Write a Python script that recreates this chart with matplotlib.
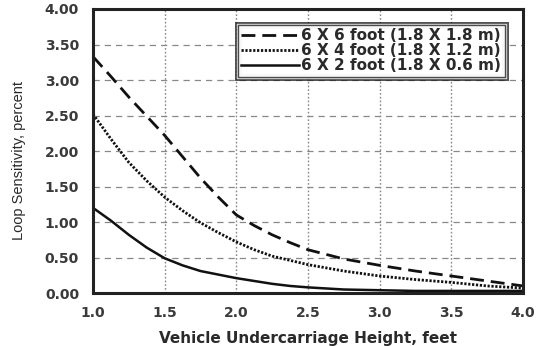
import numpy as np
import matplotlib.pyplot as plt
import matplotlib.patheffects as pe

# heights (feet) and loop sensitivity (%)
height = [1.0, 1.125, 1.25, 1.375, 1.5, 1.625, 1.75, 1.875, 2.0, 2.125, 2.25,
          2.375, 2.5, 2.75, 3.0, 3.25, 3.5, 3.75, 4.0]
sens_6x6 = [3.33, 3.05, 2.76, 2.49, 2.22, 1.92, 1.62, 1.35, 1.10, 0.95, 0.82,
            0.71, 0.61, 0.48, 0.39, 0.31, 0.24, 0.17, 0.10]
sens_6x4 = [2.52, 2.17, 1.84, 1.58, 1.35, 1.16, 0.99, 0.85, 0.72, 0.61, 0.52,
            0.46, 0.40, 0.31, 0.24, 0.19, 0.15, 0.10, 0.07]
sens_6x2 = [1.20, 1.02, 0.82, 0.64, 0.49, 0.39, 0.31, 0.26, 0.21, 0.17, 0.13,
            0.10, 0.08, 0.05, 0.04, 0.03, 0.03, 0.03, 0.03]

labels = ['6 X 6 foot (1.8 X 1.8 m)',
          '6 X 4 foot (1.8 X 1.2 m)',
          '6 X 2 foot (1.8 X 0.6 m)']

plt.rcParams['font.family'] = ['DejaVu Sans']
ink = '#2a2a2a'

fig = plt.figure(figsize=(5.39, 3.46), dpi=100)
ax = fig.add_axes([0.1725, 0.153, 0.798, 0.821])

ax.plot(height, sens_6x6, color='#111111', lw=2.0, ls=(0, (5, 2.5)), label=labels[0])
ax.plot(height, sens_6x4, color='#111111', lw=2.0, ls=(0, (0.8, 0.6)), label=labels[1])
ax.plot(height, sens_6x2, color='#111111', lw=1.8, ls='-', label=labels[2])

xt = np.arange(1.0, 4.01, 0.5)
yt = np.arange(0, 4.01, 0.5)
ax.set_xlim(1.0, 4.0)
ax.set_ylim(0, 4.0)
ax.set_xticks(xt)
ax.set_yticks(yt)
ax.set_xticklabels(['%.1f' % v for v in xt])
ax.set_yticklabels(['%.2f' % v for v in yt])
ax.tick_params(length=0, labelsize=10, colors='#3a3a3a')
ax.tick_params(axis='y', pad=10)
ax.tick_params(axis='x', pad=9)
for t in ax.get_xticklabels() + ax.get_yticklabels():
    t.set_fontweight('bold')

ax.yaxis.grid(True, color='#888888', ls=(0, (5, 4)), lw=0.9)
ax.xaxis.grid(True, color='#888888', ls=(0, (1.2, 1.5)), lw=1.0)
ax.set_axisbelow(True)

for s in ax.spines.values():
    s.set_linewidth(2.2)
    s.set_color('#222222')

ax.set_xlabel('Vehicle Undercarriage Height, feet', fontsize=11,
              fontweight='bold', color=ink, labelpad=8)
ax.set_ylabel('Loop Sensitivity, percent', fontsize=10.5, color=ink,
              family=['Liberation Sans Narrow', 'Liberation Sans', 'DejaVu Sans'])
ax.yaxis.set_label_coords(-0.155, 0.465)

leg = ax.legend(loc='upper right', fontsize=11, frameon=True, fancybox=False,
                handlelength=3.8, handletextpad=0.1, borderpad=0.25,
                labelspacing=0.0, bbox_to_anchor=(0.975, 0.972))
frame = leg.get_frame()
frame.set_edgecolor('#222222')
frame.set_linewidth(1.0)
frame.set_path_effects([pe.Stroke(linewidth=5, foreground='#222222'),
                        pe.Stroke(linewidth=2.4, foreground='white'),
                        pe.Normal()])
for t in leg.get_texts():
    t.set_fontweight('bold')
    t.set_color(ink)

fig.savefig('out.png', dpi=100)
